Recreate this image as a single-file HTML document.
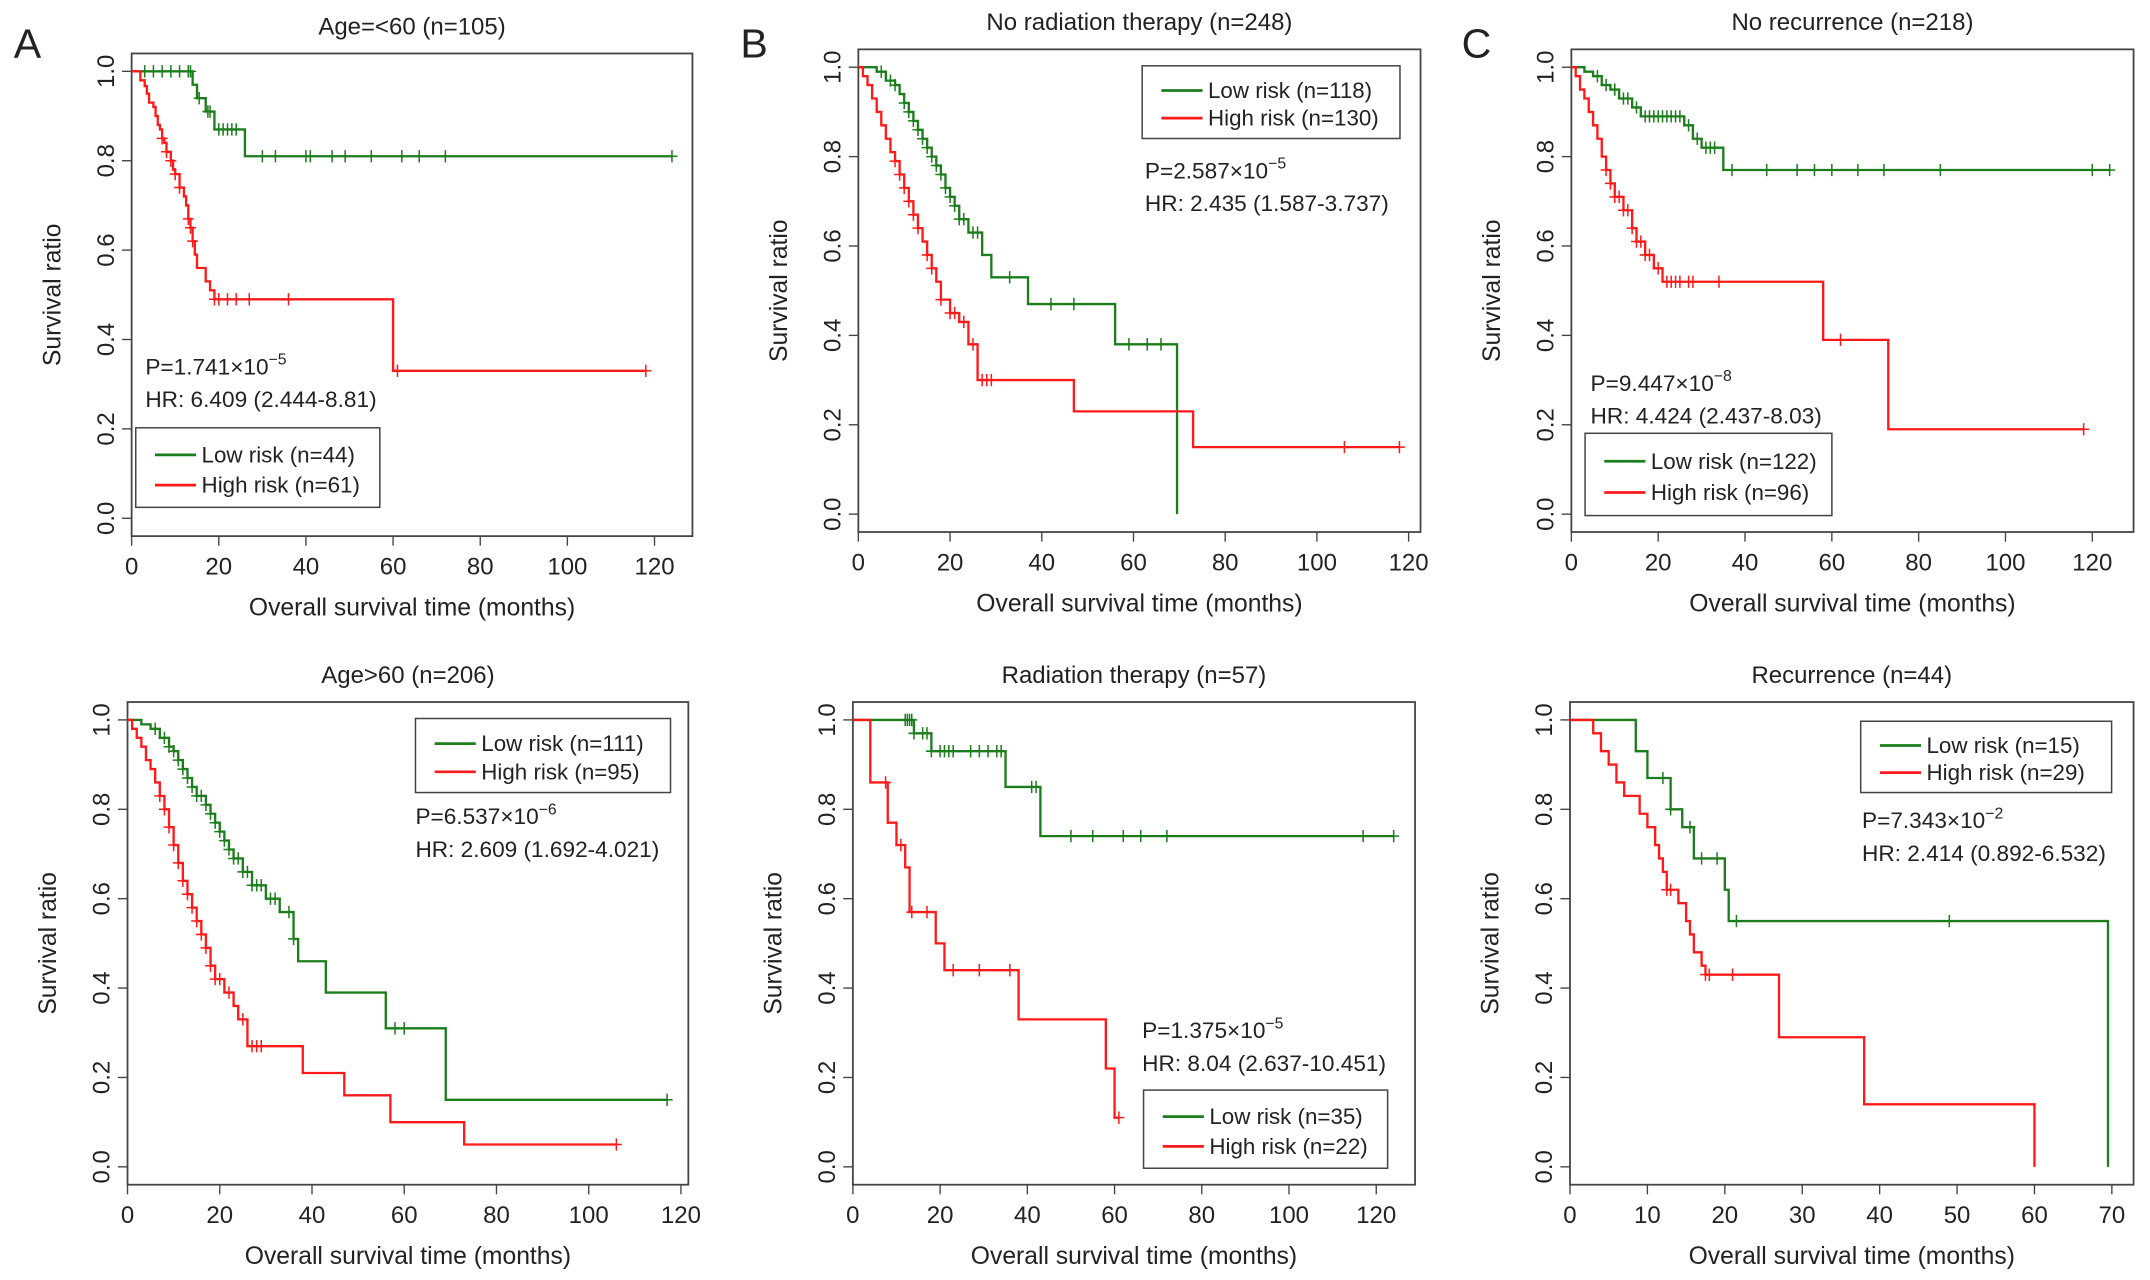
<!DOCTYPE html>
<html><head><meta charset="utf-8"><style>
body{margin:0;background:#fff}
svg{display:block}
text{font-family:"Liberation Sans",sans-serif;fill:#222}
</style></head><body>
<svg id="fig" width="2150" height="1280" viewBox="0 0 1568 933.5" preserveAspectRatio="none" xmlns="http://www.w3.org/2000/svg">
<text x="10" y="42" font-size="30">A</text>
<text x="540" y="42" font-size="30">B</text>
<text x="1066" y="42" font-size="30">C</text>
</svg>
<script>
// ---- data ----
const aLowT=[14,15,17,19,26], aLowS=[0.97,0.94,0.91,0.87,0.81], aLowC=[3,5,7,9,11,13,13.5,15.5,17.5,18,20,21,22,23,24,30,33,40,41,46,49,55,62,66,72,124];
const aHighT=[2,3,3.5,4,5,5.5,6,6.5,7,7.5,8,9,9.5,10,11,12,12.5,13,13.5,14,14.5,15,17,18,19,60];
const aHighS=[0.98,0.967,0.95,0.93,0.92,0.9,0.88,0.87,0.85,0.84,0.82,0.8,0.78,0.77,0.74,0.72,0.7,0.67,0.65,0.62,0.59,0.56,0.53,0.51,0.49,0.33];
const aHighC=[7,8,9,10,11,13,13.5,14,19,20,22,24,27,36,61,118];
const bLowT=[4,6,8,9,10,11,12,13,14,15,16,17,18,19,20,21,22,24,27,29,37,56,69.5];
const bLowS=[0.99,0.97,0.96,0.94,0.92,0.9,0.88,0.86,0.84,0.82,0.8,0.78,0.76,0.73,0.71,0.69,0.66,0.63,0.58,0.53,0.47,0.38,0];
const bLowC=[5,7,8,10,11,12,13,14,15,16,17,18,19,20,21,22,23,25,26,33,42,47,59,63,66];
const bHighT=[1,2,3,4,5,6,7,8,9,10,11,12,13,14,15,16,17,18,20,22,24,26,47,73];
const bHighS=[0.98,0.96,0.93,0.9,0.87,0.84,0.81,0.79,0.76,0.73,0.7,0.67,0.64,0.61,0.58,0.55,0.52,0.48,0.45,0.43,0.38,0.3,0.23,0.15];
const bHighC=[8,9,10,11,12,13,15,16,18,20,21,23,25,27,28,29,106,118];
const cLowT=[3,5,7,9,11,14,16,26,28,30,35], cLowS=[0.99,0.98,0.96,0.95,0.93,0.91,0.89,0.87,0.84,0.82,0.77];
const cLowC=[6,8,10,12,13,15,17,18,19,20,21,22,23,24,25,27,29,31,32,33,37,45,52,56,60,66,72,85,120,124];
const cHighT=[1,2,3,4,5,6,7,8,9,10,12,14,15,17,19,21,58,73];
const cHighS=[0.98,0.95,0.93,0.9,0.87,0.84,0.8,0.77,0.74,0.71,0.68,0.64,0.61,0.58,0.55,0.52,0.39,0.19];
const cHighC=[8,9,10,11,12,13,14,15,16,17,18,20,22,23,24,25,27,28,34,62,118];
const dLowT=[3,5,7,9,10,11,12,13,14,15,17,18,19,20,21,22,23,25,27,30,33,36,37,43,56,69];
const dLowS=[0.99,0.98,0.96,0.94,0.93,0.91,0.89,0.87,0.85,0.83,0.81,0.79,0.77,0.75,0.73,0.71,0.69,0.66,0.63,0.6,0.57,0.51,0.46,0.39,0.31,0.15];
const dLowC=[6,8,9,10,11,12,13,14,15,16,17,18,19,20,21,22,23,24,25,26,27,28,29,31,32,35,36,58,60,117];
const dHighT=[1,2,3,4,5,6,7,8,9,10,11,12,13,14,15,16,17,18,19,21,23,24,26,38,47,57,73];
const dHighS=[0.98,0.96,0.94,0.91,0.89,0.86,0.83,0.8,0.76,0.72,0.68,0.64,0.61,0.58,0.55,0.52,0.49,0.45,0.42,0.39,0.36,0.33,0.27,0.21,0.16,0.1,0.05];
const dHighC=[7,8,9,10,11,12,13,14,15,16,17,18,19,20,22,25,27,28,29,106];
const eLowT=[14,18,35,43], eLowS=[0.97,0.93,0.85,0.74];
const eLowC=[12,12.5,13,13.5,14,16,17,18,20,21,22,23,27,29,31,33,34,41,42,50,55,62,66,72,117,124];
const eHighT=[4,8,10,12,13,19,21,38,58,60], eHighS=[0.86,0.77,0.72,0.67,0.57,0.5,0.44,0.33,0.22,0.11];
const eHighC=[7.5,11,13.5,17,23,29,36,61];
const fLowT=[8.5,10,13,14.5,16,20,20.5,69.5], fLowS=[0.93,0.87,0.8,0.76,0.69,0.62,0.55,0];
const fLowC=[12,13,15.5,17,19,21.5,49];
const fHighT=[3,4,5,6,7,9,10,11,11.5,12,12.5,14,15,15.5,16,17,17.5,27,38,60];
const fHighS=[0.97,0.93,0.9,0.86,0.83,0.79,0.76,0.72,0.69,0.66,0.62,0.59,0.55,0.52,0.48,0.45,0.43,0.29,0.14,0];
const fHighC=[12.5,13,17.5,18,21];
const xTicks120=[0,20,40,60,80,100,120], xTicks70=[0,10,20,30,40,50,60,70];
const yTicks=[0,0.2,0.4,0.6,0.8,1.0];

const NS="http://www.w3.org/2000/svg";
const svg=document.getElementById('fig');
function mk(tag,attrs,parent,txt){const e=document.createElementNS(NS,tag);for(const k in attrs)e.setAttribute(k,attrs[k]);if(txt!==undefined)e.textContent=txt;(parent||svg).appendChild(e);return e;}
const GREEN="#1b7d1b",RED="#ff1a1a";

function panel(p){
  const g=mk('g',{});
  
  
  const L=p.x0,R=p.x1,T=p.y0,B=p.y1,H=B-T;
  const sx=t=>L+t/p.xmax*(R-L);
  const sy=v=>B-0.037*H-v*(0.926*H);
  const box=mk('rect',{x:L,y:T,width:R-L,height:H,fill:'none',stroke:'#444','stroke-width':1.3},g);
  
  const tt=mk('text',{x:(L+R)/2,y:T-14,'font-size':17.5,'text-anchor':'middle'},g,p.title);
  
  p.xt.forEach(v=>{
    mk('line',{x1:sx(v),x2:sx(v),y1:B,y2:B+7,stroke:'#444'},g);
    const t=mk('text',{x:sx(v),y:B+28,'font-size':17.5,'text-anchor':'middle'},g,String(v));
    
  });
  yTicks.forEach(v=>{
    mk('line',{x1:L,x2:L-7,y1:sy(v),y2:sy(v),stroke:'#444'},g);
    const t=mk('text',{x:L-13,y:sy(v),'font-size':17.5,'text-anchor':'middle',transform:`rotate(-90 ${L-13} ${sy(v)})`},g,v.toFixed(1));
    
  });
  const xl=mk('text',{x:(L+R)/2,y:B+58,'font-size':18,'text-anchor':'middle'},g,'Overall survival time (months)');
  
  const yx=L-52,yy=(T+B)/2;
  const yl=mk('text',{x:yx,y:yy,'font-size':18,'text-anchor':'middle',transform:`rotate(-90 ${yx} ${yy})`},g,'Survival ratio');
  
  [[p.low,GREEN,'low-risk-curve'],[p.high,RED,'high-risk-curve']].forEach(([s,col,nm])=>{
    const [T_,S_,C_,end]=s;
    let d=`M${sx(0)},${sy(1)}`,cur=1;
    T_.forEach((t,i)=>{d+=`H${sx(t)}V${sy(S_[i])}`;cur=S_[i];});
    if(cur>0)d+=`H${sx(end)}`;
    const path=mk('path',{d:d,fill:'none',stroke:col,'stroke-width':1.7},g);
    
    const sAt=t=>{let v=1;T_.forEach((tt,i)=>{if(tt<=t)v=S_[i];});return v;};
    C_.forEach(c=>{
      const cx=sx(c),cy=sy(sAt(c));
      const m=mk('path',{d:`M${cx},${cy-4.5}V${cy+4.5}M${cx-4},${cy}H${cx+4}`,stroke:col,'stroke-width':1.1},g);
      
    });
  });
  const lg=p.leg;
  const lb=mk('rect',{x:lg[0],y:lg[1],width:lg[2],height:lg[3],fill:'#fff',stroke:'#444','stroke-width':1.1},g);
  
  const ey1=lg[1]+lg[3]*0.34,ey2=lg[1]+lg[3]*0.72;
  [[ey1,GREEN,p.lowLbl,'legend-entry-low-risk'],[ey2,RED,p.highLbl,'legend-entry-high-risk']].forEach(([ey,col,lbl,nm])=>{
    mk('line',{x1:lg[0]+14,x2:lg[0]+44,y1:ey,y2:ey,stroke:col,'stroke-width':2},g);
    const t=mk('text',{x:lg[0]+48,y:ey+5.5,'font-size':16.3},g,lbl);
    
  });
  const pt=mk('text',{x:p.ptxt[0],y:p.ptxt[1],'font-size':16.5},g);
  
  mk('tspan',{},pt,'P='+p.pv+'\u00d710');
  mk('tspan',{dy:-7,'font-size':11.5},pt,'\u2212'+p.pe);
  const hr=mk('text',{x:p.ptxt[0],y:p.ptxt[1]+24,'font-size':16.5},g,'HR: '+p.hr);
  
}

panel({id:'panel-age-under-60',x0:96,x1:505,y0:39,y1:391,xmax:128.7,xt:xTicks120,title:'Age=<60 (n=105)',
  low:[aLowT,aLowS,aLowC,124],high:[aHighT,aHighS,aHighC,118],leg:[99,312,178,58],lowLbl:'Low risk (n=44)',highLbl:'High risk (n=61)',
  ptxt:[106,273],pv:'1.741',pe:'5',hr:'6.409 (2.444-8.81)'});
panel({id:'panel-no-radiation',x0:626,x1:1036,y0:36,y1:388,xmax:122.6,xt:xTicks120,title:'No radiation therapy (n=248)',
  low:[bLowT,bLowS,bLowC,69.5],high:[bHighT,bHighS,bHighC,118],leg:[833,48,188,53],lowLbl:'Low risk (n=118)',highLbl:'High risk (n=130)',
  ptxt:[835,130],pv:'2.587',pe:'5',hr:'2.435 (1.587-3.737)'});
panel({id:'panel-no-recurrence',x0:1146,x1:1556,y0:36,y1:388,xmax:129.5,xt:xTicks120,title:'No recurrence (n=218)',
  low:[cLowT,cLowS,cLowC,124],high:[cHighT,cHighS,cHighC,118],leg:[1156,316,180,60],lowLbl:'Low risk (n=122)',highLbl:'High risk (n=96)',
  ptxt:[1160,285],pv:'9.447',pe:'8',hr:'4.424 (2.437-8.03)'});
panel({id:'panel-age-over-60',x0:93,x1:502,y0:512,y1:864,xmax:121.6,xt:xTicks120,title:'Age>60 (n=206)',
  low:[dLowT,dLowS,dLowC,117],high:[dHighT,dHighS,dHighC,106],leg:[303,524,186,54],lowLbl:'Low risk (n=111)',highLbl:'High risk (n=95)',
  ptxt:[303,601],pv:'6.537',pe:'6',hr:'2.609 (1.692-4.021)'});
panel({id:'panel-radiation',x0:622,x1:1032,y0:512,y1:864,xmax:128.9,xt:xTicks120,title:'Radiation therapy (n=57)',
  low:[eLowT,eLowS,eLowC,124],high:[eHighT,eHighS,eHighC,61],leg:[834,795,178,57],lowLbl:'Low risk (n=35)',highLbl:'High risk (n=22)',
  ptxt:[833,757],pv:'1.375',pe:'5',hr:'8.04 (2.637-10.451)'});
panel({id:'panel-recurrence',x0:1145,x1:1556,y0:512,y1:864,xmax:72.8,xt:xTicks70,title:'Recurrence (n=44)',
  low:[fLowT,fLowS,fLowC,69.5],high:[fHighT,fHighS,fHighC,60],leg:[1357,526,183,52],lowLbl:'Low risk (n=15)',highLbl:'High risk (n=29)',
  ptxt:[1358,604],pv:'7.343',pe:'2',hr:'2.414 (0.892-6.532)'});
</script>
</body></html>
